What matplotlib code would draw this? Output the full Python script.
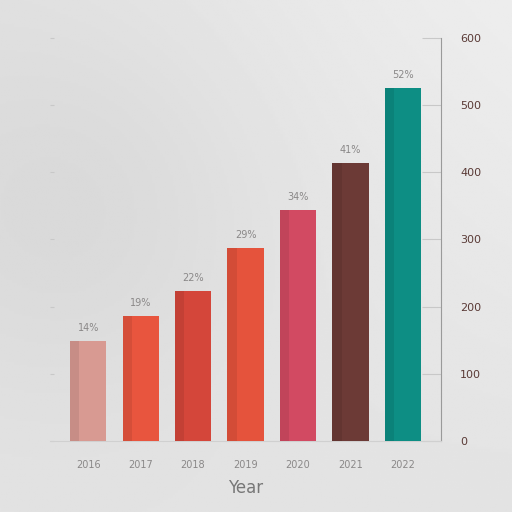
import matplotlib.pyplot as plt
import numpy as np

# данные
years = ['2016', '2017', '2018', '2019', '2020', '2021', '2022']
values = [149, 186, 223, 287, 344, 414, 525]
value_labels = ['14%', '19%', '22%', '29%', '34%', '41%', '52%']
colors = ['#d89a92', '#e8553e', '#d4463a', '#e5533c', '#d24a62', '#6c3a36', '#0d8e84']
right_ticks = [0, 100, 200, 300, 400, 500, 600]

fig = plt.figure(figsize=(5.12, 5.12), dpi=100)
fig.patch.set_facecolor('#e0dfde')

# фон с мягким градиентом
bg = fig.add_axes([0, 0, 1, 1])
gy, gx = np.mgrid[0:1:200j, 0:1:200j]
grad = 0.89 - 0.04 * np.exp(-((gx - 0.15) ** 2 + (gy - 0.6) ** 2) / 0.15) + 0.04 * gx * gy
bg.imshow(grad, cmap='gray', vmin=0, vmax=1, extent=[0, 1, 0, 1], aspect='auto', origin='lower')
bg.axis('off')

ax = fig.add_axes([0.098, 0.139, 0.763, 0.787])
ax.patch.set_alpha(0)
x = np.arange(len(years))
ax.bar(x, values, width=0.69, color=colors, edgecolor='none', zorder=3)
# тёмная грань слева у каждого столбика
ax.bar(x - 0.69 / 2 + 0.09, values, width=0.18, color='black', alpha=0.08,
       edgecolor='none', zorder=4)

for xi, v, lab in zip(x, values, value_labels):
    ax.text(xi, v + 12, lab, ha='center', va='bottom', fontsize=7, color='#8a8888')

ax.set_xlim(-0.724, 6.724)
ax.set_ylim(0, 600)
ax.set_xticks(x)
ax.set_xticklabels(years, fontsize=7, color='#8a8888')
ax.tick_params(axis='x', length=0, pad=14)
ax.set_xlabel('Year', fontsize=12, color='#777777', labelpad=6)

ax.yaxis.tick_right()
ax.set_yticks(right_ticks)
ax.set_yticklabels([str(t) for t in right_ticks], fontsize=8, color='#5a3a36')
ax.tick_params(axis='y', which='both', right=True, direction='in', length=14,
               color='#c8c8c8', pad=14)
ax.tick_params(axis='y', left=True, labelleft=False)
for t in ax.yaxis.get_major_ticks():
    t.tick1line.set_markersize(3)
    t.tick1line.set_color('#b8b8b8')

for s in ['top', 'left']:
    ax.spines[s].set_visible(False)
ax.spines['right'].set_color('#9a9a9a')
ax.spines['bottom'].set_color('#d0d0d0')

plt.savefig('out.png', dpi=100, facecolor=fig.get_facecolor())
